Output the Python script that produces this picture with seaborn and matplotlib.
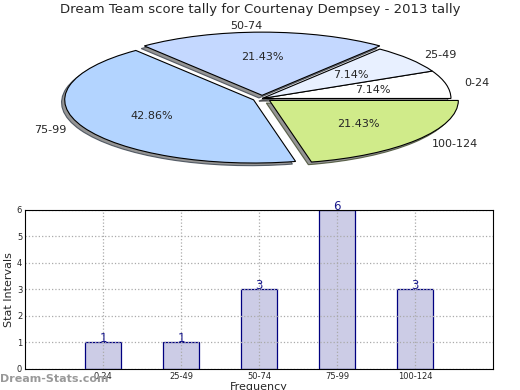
import matplotlib
matplotlib.use('Agg')
import matplotlib.pyplot as plt
import matplotlib.patches as mpatches
import seaborn as sns
import pandas as pd

# data
intervals = ['0-24', '25-49', '50-74', '75-99', '100-124']
counts = [1, 1, 3, 6, 3]
pie_colors = ['#FFFFFF', '#E8F0FF', '#C4D8FF', '#B3D4FF', '#D0EB8A']
explode = [0, 0, 0.05, 0.05, 0.05]

sns.set_style('white')
plt.rcParams['font.family'] = ['DejaVu Sans']

fig = plt.figure(figsize=(5.2, 3.9), dpi=100)

# pie
ax1 = fig.add_axes([0.05, 0.545, 0.908, 0.405])
ax1.pie(counts, labels=intervals, colors=pie_colors, explode=explode,
        autopct='%.2f%%', startangle=0,
        shadow={'ox': -0.012, 'oy': -0.03},
        wedgeprops={'edgecolor': 'black', 'linewidth': 0.8},
        textprops={'fontsize': 8})
for p in ax1.patches:
    if isinstance(p, mpatches.Shadow):
        p.set_facecolor('#7a7a7a')
        p.set_alpha(0.8)
ax1.set_aspect('auto')
ax1.set_xlim(-1.25, 1.25)
ax1.set_ylim(-1.25, 1.25)
fig.text(0.5, 0.975, 'Dream Team score tally for Courtenay Dempsey - 2013 tally',
         ha='center', va='center', fontsize=9.5)

# bars
ax2 = fig.add_axes([0.048, 0.054, 0.9, 0.408])
df = pd.DataFrame({'interval': intervals, 'count': counts})
sns.barplot(data=df, x='interval', y='count', ax=ax2, color='#CCCCE6',
            edgecolor='#000080', linewidth=0.9, width=0.46, saturation=1)
ax2.set_xlim(-1, 5)
ax2.set_ylim(0, 6)
ax2.set_yticks(range(7))
for i, c in enumerate(counts):
    ax2.text(i, c + 0.13, str(c), ha='center', va='center', fontsize=8.5,
             color='#1a1a8c', clip_on=False)
ax2.grid(True, linestyle=':', color='#aaaaaa', linewidth=0.9)
ax2.set_axisbelow(False)
for s in ax2.spines.values():
    s.set_color('black')
    s.set_linewidth(0.8)
    s.set_zorder(5)
ax2.tick_params(labelsize=6, length=2, direction='in', pad=2)
ax2.set_ylabel('Stat Intervals', fontsize=8, labelpad=2)
ax2.set_xlabel('Frequency', fontsize=8, labelpad=1)

fig.text(0.0, 0.027, 'Dream-Stats.com', ha='left', va='center', fontsize=8,
         color='#999999', fontweight='bold')

fig.savefig('out.png', dpi=100)
